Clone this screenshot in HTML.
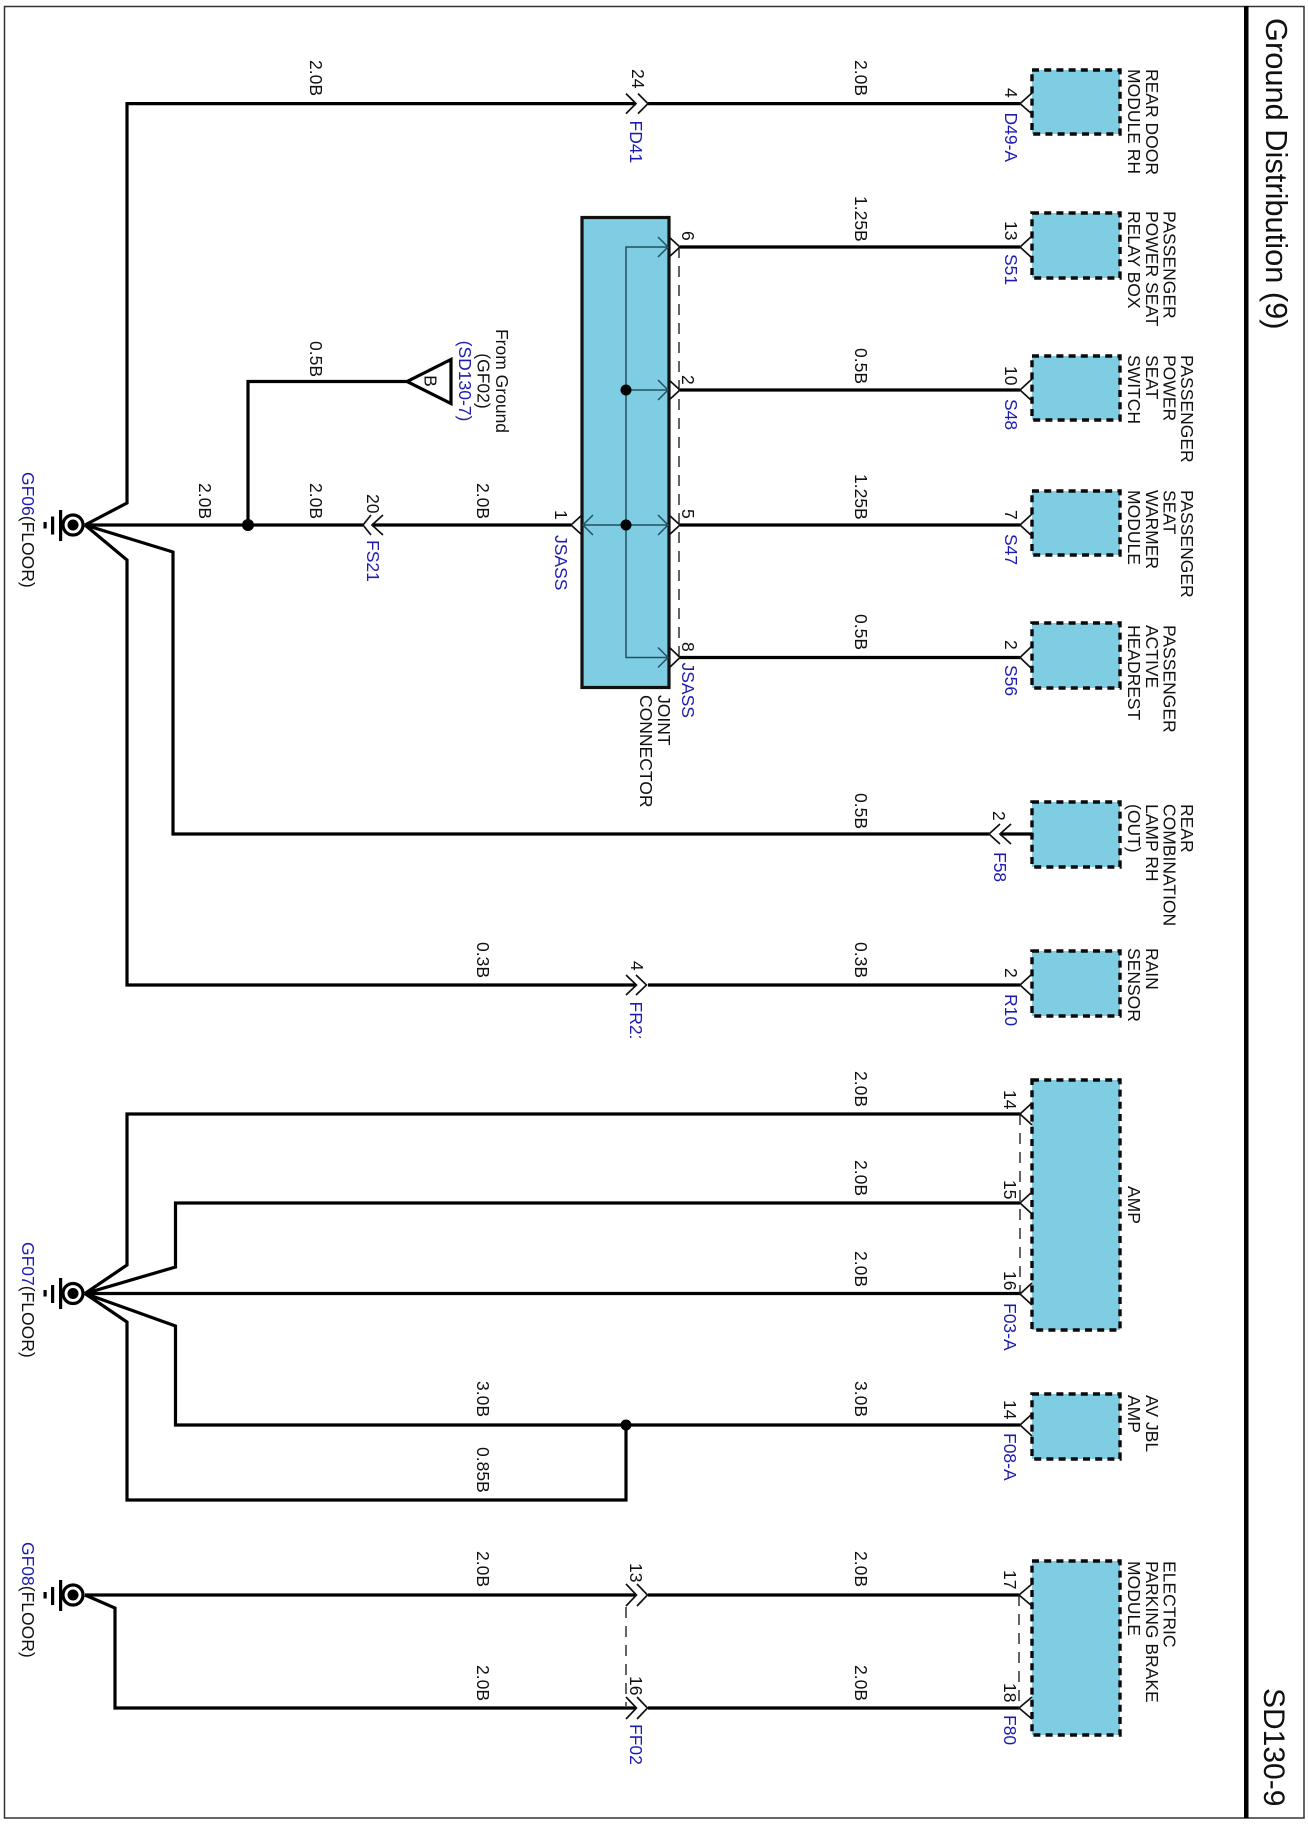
<!DOCTYPE html>
<html><head><meta charset="utf-8"><title>Ground Distribution (9)</title>
<style>
html,body{margin:0;padding:0;background:#fff}
svg{display:block}
text{font-family:"Liberation Sans",sans-serif;font-size:17.5px;fill:#111}
.b{fill:#1c1cb4}
.t{font-size:30px}
.w{fill:none;stroke:#000;stroke-width:3.2;stroke-linejoin:miter}
.c{fill:none;stroke:#111;stroke-width:1.7}
.d{fill:none;stroke:#222;stroke-width:1.4;stroke-dasharray:11 8}
.i{fill:none;stroke:#24505f;stroke-width:1.5}
.m{fill:#7fcde3;stroke:#0a0a0a;stroke-width:3.4;stroke-dasharray:7 5.2}
.g{fill:#000}
</style></head><body>
<svg width="1308" height="1824" viewBox="0 0 1308 1824" xmlns="http://www.w3.org/2000/svg">
<rect width="1308" height="1824" fill="#fff"/>
<rect x="4.5" y="6.5" width="1299.5" height="1811.5" fill="none" stroke="#333" stroke-width="1.5"/>
<rect x="1244" y="6" width="4.5" height="1812" fill="#000"/>
<text class="t" style="font-size:30.8px" transform="translate(1266 18) rotate(90)">Ground Distribution (9)</text>
<text class="t" transform="translate(1264 1688) rotate(90)">SD130-9</text>

<!-- modules -->
<rect class="m" x="1032" y="70" width="88" height="64"/>
<rect class="m" x="1032" y="213" width="88" height="65"/>
<rect class="m" x="1032" y="356" width="88" height="64"/>
<rect class="m" x="1032" y="491" width="88" height="64"/>
<rect class="m" x="1032" y="623" width="88" height="65"/>
<rect class="m" x="1032" y="802" width="88" height="65"/>
<rect class="m" x="1032" y="951" width="88" height="65"/>
<rect class="m" x="1032" y="1080" width="88" height="250"/>
<rect class="m" x="1032" y="1394" width="88" height="65"/>
<rect class="m" x="1032" y="1561" width="88" height="174"/>

<!-- joint connector -->
<rect x="582" y="217.500" width="87" height="470" fill="#7fcde3" stroke="#111" stroke-width="3.2"/>
<path class="i" d="M668 247H626V657.500H668M626 390H668M582 525H668"/>
<path class="i" d="M658 237L668 247L658 257M658 380L668 390L658 400M658 515L668 525L658 535M658 647.500L668 657.500L658 667.500M593 515L583 525L593 535"/>
<circle class="g" cx="626" cy="390" r="5.500"/>
<circle class="g" cx="626" cy="525" r="5.500"/>
<path class="d" d="M679 247V657"/>
<path class="c" d="M669 237L680 247L669 257M669 380L680 390L669 400M669 515L680 525L669 535M669 647L680 657.500L669 668M582 515L571 525L582 535"/>

<!-- wires GF06 -->
<path class="w" d="M85 525L127 503V103.600H636M648 103.600H1020"/>
<path class="w" d="M680 247H1020M680 390H1020M680 525H1020M680 657.500H1020"/>
<path class="w" d="M85 525H363M372 525H571"/>
<path class="w" d="M248 525V381.500H407"/>
<path class="w" d="M407 381.500L451 359.500V403.500Z"/>
<path class="w" d="M85 525L173 552V834H989M1000 834H1032"/>
<path class="w" d="M85 525L127 560V985H636M648 985H1020"/>
<circle class="g" cx="248" cy="525" r="6"/>
<path class="c" d="M626 93.600L636 103.600L626 113.600M638 93.600L648 103.600L638 113.600"/>
<path class="c" d="M371 515L363 525L371 535M383 515L372 525L383 535"/>
<path class="c" d="M626 975L636.500 985L626 995M636 975L646.500 985L636 995"/>
<path class="c" d="M1000 824L989 834L1000 844M1011 824L1000 834L1011 844"/>

<!-- wires GF07 -->
<path class="w" d="M85 1293.500L127 1265V1114H1020"/>
<path class="w" d="M85 1293.500L175.500 1267V1203H1020"/>
<path class="w" d="M85 1293.500H1020"/>
<path class="w" d="M85 1293.500L175.500 1326V1425H1020"/>
<path class="w" d="M85 1293.500L127 1322V1500H626V1425"/>
<circle class="g" cx="626" cy="1425" r="5.500"/>
<path class="d" d="M1020 1114V1294"/>

<!-- wires GF08 -->
<path class="w" d="M85 1595H636M648 1595H1019"/>
<path class="w" d="M85 1595L115 1608V1708H636M648 1708H1019"/>
<path class="d" d="M626 1607V1706"/>
<path class="d" d="M1019 1595V1708"/>
<path class="c" d="M626 1584L636.500 1595L626 1606M637 1584L647.500 1595L637 1606M626 1697L636.500 1708L626 1719M637 1697L647.500 1708L637 1719"/>

<!-- right connector chevrons -->
<path class="c" d="M1032 93L1020 103.600L1032 114M1032 236L1020 247L1032 258M1032 379L1020 390L1032 401M1032 514L1020 525L1032 536M1032 646L1020 657.500L1032 669M1032 974L1020 985L1032 996M1032 1103L1020 1114L1032 1125M1032 1192L1020 1203L1032 1214M1032 1283L1020 1294L1032 1305M1032 1414L1020 1425L1032 1436M1032 1584L1019 1595L1032 1606M1032 1697L1019 1708L1032 1719"/>

<!-- grounds -->
<g>
<circle cx="73" cy="525" r="10" fill="#fff" stroke="#000" stroke-width="3.2"/><circle class="g" cx="73" cy="525" r="5.500"/>
<rect class="g" x="59" y="510" width="3.200" height="31"/><rect class="g" x="51" y="516.500" width="3.200" height="18"/><rect class="g" x="43.500" y="522" width="3.200" height="6.500"/>
</g>
<g>
<circle cx="73" cy="1293.500" r="10" fill="#fff" stroke="#000" stroke-width="3.2"/><circle class="g" cx="73" cy="1293.500" r="5.500"/>
<rect class="g" x="59" y="1278" width="3.200" height="31"/><rect class="g" x="51" y="1285" width="3.200" height="18"/><rect class="g" x="43.500" y="1290" width="3.200" height="6.500"/>
</g>
<g>
<circle cx="73" cy="1595" r="10" fill="#fff" stroke="#000" stroke-width="3.2"/><circle class="g" cx="73" cy="1595" r="5.500"/>
<rect class="g" x="59" y="1580" width="3.200" height="31"/><rect class="g" x="51" y="1587" width="3.200" height="18"/><rect class="g" x="43.500" y="1592" width="3.200" height="6.500"/>
</g>

<!-- ground labels -->
<text transform="translate(22 472) rotate(90)"><tspan class="b">GF06</tspan>(FLOOR)</text>
<text transform="translate(22 1242) rotate(90)"><tspan class="b">GF07</tspan>(FLOOR)</text>
<text transform="translate(22 1542) rotate(90)"><tspan class="b">GF08</tspan>(FLOOR)</text>

<!-- from ground -->
<text transform="translate(424.500 381) rotate(90)" text-anchor="middle">B</text>
<text transform="translate(496 381) rotate(90)" text-anchor="middle">From Ground</text>
<text transform="translate(477.500 381) rotate(90)" text-anchor="middle">(GF02)</text>
<text class="b" transform="translate(459 381) rotate(90)" text-anchor="middle">(SD130-7)</text>

<!-- wire specs -->
<text transform="translate(310 60) rotate(90)">2.0B</text>
<text transform="translate(855 60) rotate(90)">2.0B</text>
<text transform="translate(855 196) rotate(90)">1.25B</text>
<text transform="translate(855 348) rotate(90)">0.5B</text>
<text transform="translate(855 474) rotate(90)">1.25B</text>
<text transform="translate(855 614) rotate(90)">0.5B</text>
<text transform="translate(855 793) rotate(90)">0.5B</text>
<text transform="translate(855 942) rotate(90)">0.3B</text>
<text transform="translate(855 1071) rotate(90)">2.0B</text>
<text transform="translate(855 1160) rotate(90)">2.0B</text>
<text transform="translate(855 1251) rotate(90)">2.0B</text>
<text transform="translate(855 1381) rotate(90)">3.0B</text>
<text transform="translate(855 1551) rotate(90)">2.0B</text>
<text transform="translate(855 1665) rotate(90)">2.0B</text>
<text transform="translate(310 341) rotate(90)">0.5B</text>
<text transform="translate(199 483) rotate(90)">2.0B</text>
<text transform="translate(310 483) rotate(90)">2.0B</text>
<text transform="translate(477 483) rotate(90)">2.0B</text>
<text transform="translate(477 942) rotate(90)">0.3B</text>
<text transform="translate(477 1381) rotate(90)">3.0B</text>
<text transform="translate(477 1447) rotate(90)">0.85B</text>
<text transform="translate(477 1551) rotate(90)">2.0B</text>
<text transform="translate(477 1665) rotate(90)">2.0B</text>

<!-- pins + connector ids -->
<text transform="translate(632 69) rotate(90)">24</text>
<text class="b" transform="translate(630 120.500) rotate(90)">FD41</text>
<text transform="translate(1005 88) rotate(90)">4</text>
<text class="b" transform="translate(1005 112.500) rotate(90)">D49-A</text>
<text transform="translate(1005 221) rotate(90)">13</text>
<text class="b" transform="translate(1005 254) rotate(90)">S51</text>
<text transform="translate(1005 366) rotate(90)">10</text>
<text class="b" transform="translate(1005 399) rotate(90)">S48</text>
<text transform="translate(1005 510) rotate(90)">7</text>
<text class="b" transform="translate(1005 534) rotate(90)">S47</text>
<text transform="translate(1005 640) rotate(90)">2</text>
<text class="b" transform="translate(1005 665) rotate(90)">S56</text>
<text transform="translate(993 811) rotate(90)">2</text>
<text class="b" transform="translate(994 852) rotate(90)">F58</text>
<text transform="translate(1005 968) rotate(90)">2</text>
<text class="b" transform="translate(1005 994) rotate(90)">R10</text>
<text transform="translate(1004 1090) rotate(90)">14</text>
<text transform="translate(1004 1180) rotate(90)">15</text>
<text transform="translate(1004 1271) rotate(90)">16</text>
<text class="b" transform="translate(1004 1303) rotate(90)">F03-A</text>
<text transform="translate(1004 1400) rotate(90)">14</text>
<text class="b" transform="translate(1004 1433) rotate(90)">F08-A</text>
<text transform="translate(1004 1570) rotate(90)">17</text>
<text transform="translate(1004 1683) rotate(90)">18</text>
<text class="b" transform="translate(1004 1715) rotate(90)">F80</text>
<text transform="translate(630 1563) rotate(90)">13</text>
<text transform="translate(630 1676) rotate(90)">16</text>
<text class="b" transform="translate(630 1724) rotate(90)">FF02</text>
<text transform="translate(631 961) rotate(90)">4</text>
<text class="b" transform="translate(630 1001.500) rotate(90)">FR21</text>
<rect x="620" y="1038" width="30" height="12" fill="#fff"/>
<text transform="translate(367 494) rotate(90)">20</text>
<text class="b" transform="translate(367 540) rotate(90)">FS21</text>
<text transform="translate(555 510) rotate(90)">1</text>
<text class="b" transform="translate(555 535) rotate(90)">JSASS</text>
<text transform="translate(682 231) rotate(90)">6</text>
<text transform="translate(682 375) rotate(90)">2</text>
<text transform="translate(682 509) rotate(90)">5</text>
<text transform="translate(682 642) rotate(90)">8</text>
<text class="b" transform="translate(682 662.500) rotate(90)">JSASS</text>

<!-- joint connector label -->
<text transform="translate(658 695) rotate(90)">JOINT</text>
<text transform="translate(640 695) rotate(90)">CONNECTOR</text>

<!-- module labels -->
<text transform="translate(1146 69) rotate(90)">REAR DOOR</text>
<text transform="translate(1128 69) rotate(90)">MODULE RH</text>
<text transform="translate(1163.500 211) rotate(90)">PASSENGER</text>
<text transform="translate(1146 211) rotate(90)">POWER SEAT</text>
<text transform="translate(1128 211) rotate(90)">RELAY BOX</text>
<text transform="translate(1181 355) rotate(90)">PASSENGER</text>
<text transform="translate(1163.500 355) rotate(90)">POWER</text>
<text transform="translate(1146 355) rotate(90)">SEAT</text>
<text transform="translate(1128 355) rotate(90)">SWITCH</text>
<text transform="translate(1181 490) rotate(90)">PASSENGER</text>
<text transform="translate(1163.500 490) rotate(90)">SEAT</text>
<text transform="translate(1146 490) rotate(90)">WARMER</text>
<text transform="translate(1128 490) rotate(90)">MODULE</text>
<text transform="translate(1163.500 625) rotate(90)">PASSENGER</text>
<text transform="translate(1146 625) rotate(90)">ACTIVE</text>
<text transform="translate(1128 625) rotate(90)">HEADREST</text>
<text transform="translate(1181 804) rotate(90)">REAR</text>
<text transform="translate(1163.500 804) rotate(90)">COMBINATION</text>
<text transform="translate(1146 804) rotate(90)">LAMP RH</text>
<text transform="translate(1128 804) rotate(90)">(OUT)</text>
<text transform="translate(1146 948) rotate(90)">RAIN</text>
<text transform="translate(1128 948) rotate(90)">SENSOR</text>
<text transform="translate(1128 1186) rotate(90)">AMP</text>
<text transform="translate(1146 1395) rotate(90)">AV JBL</text>
<text transform="translate(1128 1395) rotate(90)">AMP</text>
<text transform="translate(1163.500 1561) rotate(90)">ELECTRIC</text>
<text transform="translate(1146 1561) rotate(90)">PARKING BRAKE</text>
<text transform="translate(1128 1561) rotate(90)">MODULE</text>
</svg>
</body></html>
